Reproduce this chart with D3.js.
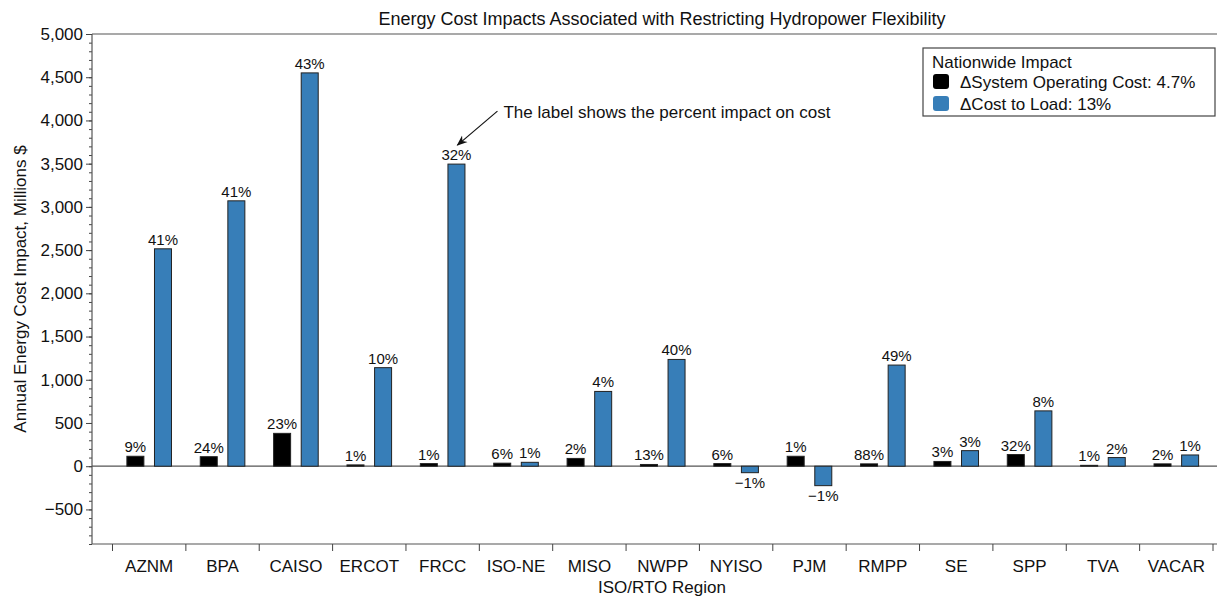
<!DOCTYPE html>
<html>
<head>
<meta charset="utf-8">
<script src="https://cdn.jsdelivr.net/npm/d3@7"></script>
<style>
    body { margin: 0; background: #fff; }
    svg { display: block; font-family: "Liberation Sans", Arial, Helvetica, sans-serif; }
</style>
</head>
<body>
<div id="chartContainer"></div>
<script>
// Chart data
const regions = ["AZNM", "BPA", "CAISO", "ERCOT", "FRCC", "ISO-NE", "MISO", "NWPP",
    "NYISO", "PJM", "RMPP", "SE", "SPP", "TVA", "VACAR"];
const opCost = [115, 110, 380, 15, 30, 35, 90, 20, 30, 115, 27, 55, 135, 10, 27];
const loadCost = [2515, 3070, 4550, 1140, 3495, 45, 865, 1235, -75, -225, 1170, 180, 640, 100, 130];
const opLabels = ["9%", "24%", "23%", "1%", "1%", "6%", "2%", "13%", "6%", "1%", "88%", "3%", "32%", "1%", "2%"];
const loadLabels = ["41%", "41%", "43%", "10%", "32%", "1%", "4%", "40%", "\u22121%", "\u22121%", "49%", "3%", "8%", "2%", "1%"];
const yTicks = [-500, 0, 500, 1000, 1500, 2000, 2500, 3000, 3500, 4000, 4500, 5000];
const legendItems = ["\u0394System Operating Cost: 4.7%", "\u0394Cost to Load: 13%"];

function init() {
    const W = 1217, H = 596;
    const left = 92, top = 34, bottom = 544, rightEdge = 1232;
    const blue = "#377eb8";

    const svg = d3.select("#chartContainer").append("svg")
        .attr("width", W)
        .attr("height", H);

    // scales
    const x = d3.scaleBand()
        .domain(regions)
        .range([112.5, 1213]);

    const y = d3.scaleLinear()
        .domain([-900, 5000])
        .range([bottom, top]);

    const barW = 17;
    const off = 13.8;

    // frame lines (top and bottom), zero line
    svg.append("line")
        .attr("x1", left).attr("x2", W)
        .attr("y1", top).attr("y2", top)
        .attr("stroke", "#555").attr("stroke-width", 1.2);
    svg.append("line")
        .attr("x1", left).attr("x2", W)
        .attr("y1", bottom).attr("y2", bottom)
        .attr("stroke", "#555").attr("stroke-width", 1.2);
    svg.append("line")
        .attr("x1", left).attr("x2", W)
        .attr("y1", y(0)).attr("y2", y(0))
        .attr("stroke", "#555").attr("stroke-width", 1.2);

    // Y axis with minor ticks
    const minor = d3.range(-900, 5001, 100);
    svg.append("g")
        .attr("transform", `translate(${left},0)`)
        .call(d3.axisLeft(y).tickValues(minor).tickSize(3).tickFormat(""))
        .call(g => g.select(".domain").remove())
        .selectAll("line").attr("stroke", "#444");

    const yAxis = svg.append("g")
        .attr("transform", `translate(${left},0)`)
        .call(d3.axisLeft(y).tickValues(yTicks).tickSize(6).tickPadding(3)
            .tickFormat(d => d < 0 ? "\u2212" + d3.format(",")(-d) : d3.format(",")(d)));
    yAxis.select(".domain")
        .attr("d", `M0,${top}V${bottom}`)
        .attr("stroke", "#555").attr("stroke-width", 1.2);
    yAxis.selectAll("line").attr("stroke", "#444");
    yAxis.selectAll("text")
        .style("font-size", "17px")
        .attr("fill", "#111");

    // X axis: ticks at category boundaries
    const bounds = regions.map(r => x(r)).concat([x.range()[1]]);
    svg.selectAll(".xtick")
        .data(bounds)
        .enter().append("line")
        .attr("class", "xtick")
        .attr("x1", d => d).attr("x2", d => d)
        .attr("y1", bottom).attr("y2", bottom + 7)
        .attr("stroke", "#444");

    svg.selectAll(".xlabel")
        .data(regions)
        .enter().append("text")
        .attr("class", "xlabel")
        .attr("x", d => x(d) + x.bandwidth() / 2)
        .attr("y", bottom + 28)
        .attr("text-anchor", "middle")
        .style("font-size", "17px")
        .attr("fill", "#111")
        .text(d => d);

    // bars
    const rows = regions.map((r, i) => ({
        r, op: opCost[i], load: loadCost[i], opL: opLabels[i], loadL: loadLabels[i]
    }));

    svg.selectAll(".bar-op")
        .data(rows)
        .enter().append("rect")
        .attr("class", "bar-op")
        .attr("x", d => x(d.r) + x.bandwidth() / 2 - off - barW / 2)
        .attr("y", d => y(Math.max(0, d.op)))
        .attr("width", barW)
        .attr("height", d => Math.abs(y(d.op) - y(0)))
        .attr("fill", "#000")
        .attr("stroke", "#222")
        .attr("stroke-width", 1);

    svg.selectAll(".bar-load")
        .data(rows)
        .enter().append("rect")
        .attr("class", "bar-load")
        .attr("x", d => x(d.r) + x.bandwidth() / 2 + off - barW / 2)
        .attr("y", d => y(Math.max(0, d.load)))
        .attr("width", barW)
        .attr("height", d => Math.abs(y(d.load) - y(0)))
        .attr("fill", blue)
        .attr("stroke", "#222")
        .attr("stroke-width", 1);

    // bar labels
    svg.selectAll(".lab-op")
        .data(rows)
        .enter().append("text")
        .attr("class", "lab-op")
        .attr("x", d => x(d.r) + x.bandwidth() / 2 - off)
        .attr("y", d => y(Math.max(0, d.op)) - 4)
        .attr("text-anchor", "middle")
        .style("font-size", "15px")
        .attr("fill", "#111")
        .text(d => d.opL);

    svg.selectAll(".lab-load")
        .data(rows)
        .enter().append("text")
        .attr("class", "lab-load")
        .attr("x", d => x(d.r) + x.bandwidth() / 2 + off)
        .attr("y", d => d.load >= 0 ? y(d.load) - 4 : y(d.load) + 15)
        .attr("text-anchor", "middle")
        .style("font-size", "15px")
        .attr("fill", "#111")
        .text(d => d.loadL);

    // title and axis titles
    svg.append("text")
        .attr("x", (left + rightEdge) / 2)
        .attr("y", 25)
        .attr("text-anchor", "middle")
        .style("font-size", "18px")
        .attr("fill", "#111")
        .text("Energy Cost Impacts Associated with Restricting Hydropower Flexibility");

    svg.append("text")
        .attr("x", (left + rightEdge) / 2)
        .attr("y", 593)
        .attr("text-anchor", "middle")
        .style("font-size", "17px")
        .attr("fill", "#111")
        .text("ISO/RTO Region");

    svg.append("text")
        .attr("transform", "rotate(-90)")
        .attr("x", -(top + bottom) / 2)
        .attr("y", 26)
        .attr("text-anchor", "middle")
        .style("font-size", "17px")
        .attr("fill", "#111")
        .text("Annual Energy Cost Impact, Millions $");

    // annotation pointing at FRCC load label
    const fx = x("FRCC") + x.bandwidth() / 2 + off;
    const fy = y(loadCost[regions.indexOf("FRCC")]);
    svg.append("defs").append("marker")
        .attr("id", "arrow")
        .attr("viewBox", "0 0 10 10")
        .attr("refX", 9).attr("refY", 5)
        .attr("markerWidth", 9).attr("markerHeight", 9)
        .attr("orient", "auto")
        .append("path")
        .attr("d", "M0,1 L10,5 L0,9 L3,5 Z")
        .attr("fill", "#111");
    svg.append("line")
        .attr("x1", fx + 41).attr("y1", fy - 53)
        .attr("x2", fx + 1).attr("y2", fy - 19)
        .attr("stroke", "#111").attr("stroke-width", 1.2)
        .attr("marker-end", "url(#arrow)");
    svg.append("text")
        .attr("x", fx + 47)
        .attr("y", fy - 46)
        .style("font-size", "17px")
        .attr("fill", "#111")
        .text("The label shows the percent impact on cost");

    // legend
    const lg = svg.append("g").attr("transform", "translate(923,48)");
    lg.append("rect")
        .attr("width", 292).attr("height", 68)
        .attr("fill", "#fff")
        .attr("stroke", "#444").attr("stroke-width", 1.2);
    lg.append("text")
        .attr("x", 9).attr("y", 20)
        .style("font-size", "17px")
        .attr("fill", "#111")
        .text("Nationwide Impact");
    const li = lg.selectAll(".li")
        .data(legendItems)
        .enter().append("g")
        .attr("class", "li")
        .attr("transform", (d, i) => `translate(0,${26 + i * 22})`);
    li.append("rect")
        .attr("x", 10).attr("y", 0)
        .attr("width", 16).attr("height", 15)
        .attr("rx", 3)
        .attr("fill", (d, i) => i === 0 ? "#000" : blue);
    li.append("text")
        .attr("x", 37).attr("y", 14)
        .style("font-size", "17px")
        .attr("fill", "#111")
        .text(d => d);
}
window.onload = init;
</script>
</body>
</html>
